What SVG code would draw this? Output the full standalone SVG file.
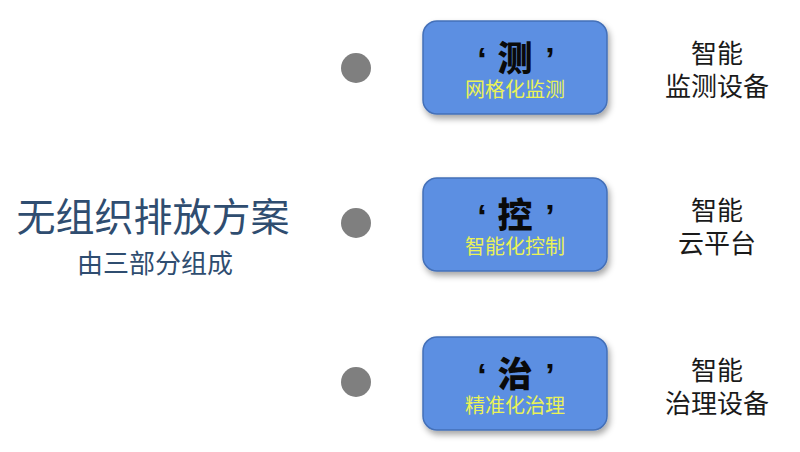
<svg xmlns="http://www.w3.org/2000/svg" width="800" height="452" viewBox="0 0 800 452">
  <defs>
    <filter id="shadow" x="-10%" y="-10%" width="125%" height="135%">
      <feDropShadow dx="2" dy="4" stdDeviation="3" flood-color="#000" flood-opacity="0.35"/>
    </filter>
    <style>
      .box { fill: #5b8fe2; stroke: #4470b8; stroke-width: 1.5; filter: url(#shadow); }
      .dot { fill: #7f7f7f; }
      .big { font-family: "Noto Sans CJK SC", "Noto Sans", sans-serif; font-size: 35px; font-weight: 900; fill: #0a0a0a; text-anchor: middle; }
      .quote { font-family: "Liberation Sans", "Noto Sans", sans-serif; font-size: 34px; font-weight: bold; }
      .sub { font-family: "Noto Sans CJK SC", "Noto Sans", sans-serif; font-size: 20px; fill: #eaf257; text-anchor: middle; }
      .right { font-family: "Noto Sans CJK SC", "Noto Sans", sans-serif; font-size: 26px; fill: #1a1a1a; text-anchor: middle; }
      .title { font-family: "Noto Sans CJK SC", "Noto Sans", sans-serif; font-size: 39px; fill: #2f4d70; text-anchor: middle; }
      .subtitle { font-family: "Noto Sans CJK SC", "Noto Sans", sans-serif; font-size: 26px; fill: #2f4d70; text-anchor: middle; }
    </style>
  </defs>
  <rect width="800" height="452" fill="#ffffff"/>

  <g id="title">
    <text class="title" x="153" y="231">无组织排放方案</text>
    <text class="subtitle" x="155" y="273">由三部分组成</text>
  </g>

  <g id="connectors"></g>

  <g id="node-ce">
    <circle class="dot" cx="356" cy="68" r="15"/>
    <rect class="box" x="423" y="21" width="184" height="93" rx="14"/>
    <text class="big" y="71"><tspan class="quote" x="482">‘</tspan><tspan x="515">测</tspan><tspan class="quote" x="550">’</tspan></text>
    <text class="sub" x="515" y="97">网格化监测</text>
    <text class="right" x="717" y="63">智能<tspan x="717" dy="33">监测设备</tspan></text>
  </g>

  <g id="node-kong">
    <circle class="dot" cx="356" cy="223" r="15"/>
    <rect class="box" x="423" y="178" width="184" height="93" rx="14"/>
    <text class="big" y="228"><tspan class="quote" x="482">‘</tspan><tspan x="515">控</tspan><tspan class="quote" x="550">’</tspan></text>
    <text class="sub" x="515" y="254">智能化控制</text>
    <text class="right" x="717" y="220">智能<tspan x="717" dy="33">云平台</tspan></text>
  </g>

  <g id="node-zhi">
    <circle class="dot" cx="356" cy="382" r="15"/>
    <rect class="box" x="423" y="337" width="184" height="93" rx="14"/>
    <text class="big" y="387"><tspan class="quote" x="482">‘</tspan><tspan x="515">治</tspan><tspan class="quote" x="550">’</tspan></text>
    <text class="sub" x="515" y="413">精准化治理</text>
    <text class="right" x="717" y="380">智能<tspan x="717" dy="33">治理设备</tspan></text>
  </g>
</svg>
